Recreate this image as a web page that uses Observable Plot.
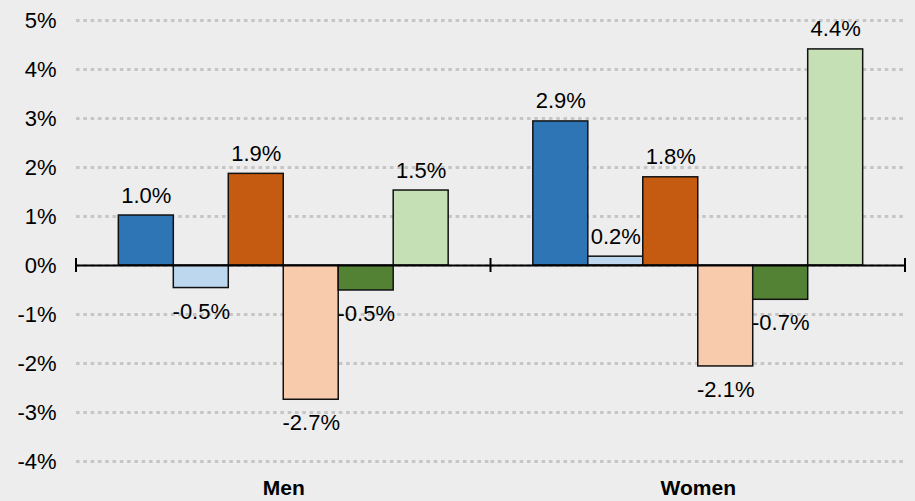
<!DOCTYPE html>
<html>
<head>
<meta charset="utf-8">
<script src="https://cdn.jsdelivr.net/npm/d3@7"></script>
<script src="https://cdn.jsdelivr.net/npm/@observablehq/plot@0.6"></script>
<style>
  html, body { margin: 0; padding: 0; background: #ededed; }
  svg { display: block; }
</style>
</head>
<body>
<div id="chart"></div>
<script>
const groups = ["Men", "Women"];
const series = ["s1", "s2", "s3", "s4", "s5", "s6"];
const colors = ["#2e75b6", "#bdd7ee", "#c55a11", "#f8cbad", "#548235", "#c5e0b4"];
const menValues = [1.02, -0.46, 1.87, -2.74, -0.51, 1.53];
const womenValues = [2.94, 0.18, 1.80, -2.06, -0.70, 4.41];
const yTicks = [-4, -3, -2, -1, 0, 1, 2, 3, 4, 5];

const data = [];
series.forEach((s, i) => {
  data.push({group: "Men", series: s, value: menValues[i]});
  data.push({group: "Women", series: s, value: womenValues[i]});
});

const fmt = d => d.value.toFixed(1) + "%";
const font = "'Liberation Sans', Arial, sans-serif";

const chart = Plot.plot({
  width: 915,
  height: 501,
  marginLeft: 76,
  marginRight: 10,
  marginTop: 20,
  marginBottom: 40,
  style: {background: "#ededed", fontFamily: font, fontSize: "22px", color: "#000", overflow: "visible"},
  fx: {domain: groups, padding: 0, round: false, label: null},
  x: {domain: series, paddingInner: 0, paddingOuter: 0.77, round: false, axis: null},
  y: {domain: [-4, 5], label: null},
  color: {domain: series, range: colors},
  marks: [
    Plot.ruleY(yTicks, {stroke: "#c6c6c6", strokeWidth: 3, strokeDasharray: "3.6,3.7"}),
    Plot.axisY(yTicks, {tickSize: 0, tickPadding: 20, tickFormat: d => d + "%", fontSize: 22, fill: "#000", label: null}),
    Plot.axisFx({anchor: "bottom", tickSize: 0, tickPadding: 19, fontSize: 21, fontWeight: "bold", fill: "#000", label: null}),
    Plot.barY(data, {fx: "group", x: "series", y: "value", fill: "series", stroke: "#111", strokeWidth: 1.5}),
    Plot.ruleY([0], {stroke: "#000", strokeWidth: 2}),
    Plot.text(data.filter(d => d.value >= 0), {fx: "group", x: "series", y: "value", text: fmt, lineAnchor: "bottom", dy: -13, fontSize: 22, fill: "#000"}),
    Plot.text(data.filter(d => d.value < 0), {fx: "group", x: "series", y: "value", text: fmt, lineAnchor: "top", dy: 15, fontSize: 22, fill: "#000"})
  ]
});

// group boundary tick marks on the zero axis, placed from the plot's own scales
const fxS = chart.scale("fx");
const yS = chart.scale("y");
const y0 = yS.apply(0);
const edges = groups.map(g => fxS.apply(g));
edges.push(fxS.apply(groups[groups.length - 1]) + fxS.bandwidth);
d3.select(chart).append("g")
  .selectAll("line").data(edges).join("line")
  .attr("x1", d => d).attr("x2", d => d)
  .attr("y1", y0 - 7).attr("y2", y0 + 7)
  .attr("stroke", "#000").attr("stroke-width", 2);

document.getElementById("chart").appendChild(chart);
</script>
</body>
</html>
